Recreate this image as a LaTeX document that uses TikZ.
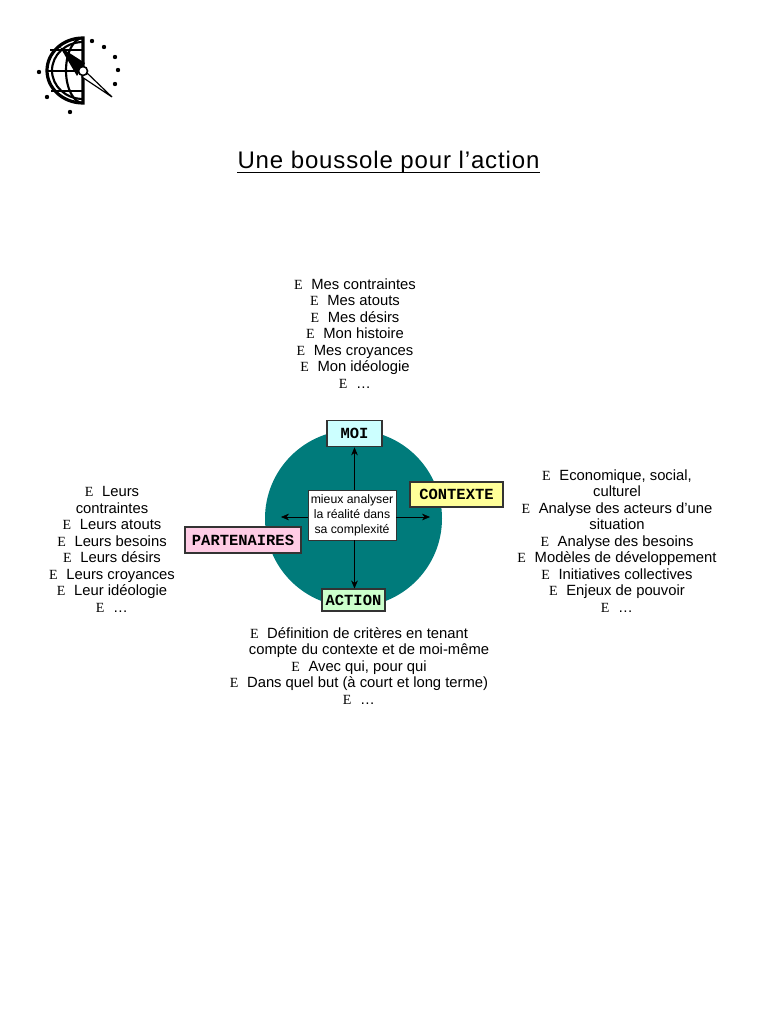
\documentclass[tikz,border=0pt]{standalone}
\usepackage{fontspec}
\setmainfont{Liberation Sans}
\newfontfamily\serifE{Liberation Serif}
\newfontfamily\titlefont[LetterSpace=3.6]{Liberation Sans}
\usetikzlibrary{positioning,arrows.meta}
\definecolor{sarcelle}{HTML}{007B7B}
\definecolor{polemoi}{HTML}{CCFFFF}
\definecolor{polectx}{HTML}{FFFF99}
\definecolor{polepart}{HTML}{FFCCE5}
\definecolor{poleact}{HTML}{CCFFCC}
\newcommand{\puce}{{\serifE\fontsize{10.5}{12}\selectfont E}\hspace{6.5pt}}

\begin{document}
\begin{tikzpicture}[
  x=0.75pt, y=-0.75pt,
  pole/.style={rectangle, draw=black!80, line width=0.8pt, inner sep=0pt, font=\fontsize{11.6}{13}\selectfont\ttfamily\bfseries},
  liste/.style={align=center, inner sep=0pt, font=\fontsize{11.1}{12.4}\selectfont},
  >={Stealth[length=6pt,width=5pt]}
]
  \setmonofont{Liberation Mono}
  \useasboundingbox (0,0) rectangle (768,1024);

  \draw[line width=2.4pt] (83,38) arc[start angle=270, end angle=90, x radius=36, y radius=32.5] -- cycle;
  \draw[line width=1.6pt] (83,42) arc[start angle=270, end angle=90, x radius=31, y radius=28.5];
  \draw[line width=1.6pt] (83,38) arc[start angle=270, end angle=90, x radius=17, y radius=32.5];
  \draw[line width=1.6pt] (50,50) -- (83,50) (47,71) -- (83,71) (51,91) -- (83,91);
  \fill (60,47) -- (85,63) -- (77,76) -- cycle;
  \draw[fill=white, line width=0.9pt] (86,72) -- (112,97) -- (82,77) -- cycle;
  \draw[fill=white, line width=1.2pt] (83,71) circle (4.5);
  \foreach \mx/\my in {92/41, 104/47, 115/57, 118/70, 115/84, 39/72, 47/97, 70/112}
    \fill (\mx,\my) circle (2.2);

  \node[anchor=base, inner sep=0pt, font=\fontsize{18}{22}\selectfont\titlefont] (titre) at (388.5,168.5) {Une boussole pour l’action};
  \draw[line width=1pt] ([yshift=-3pt]titre.base west) -- ([yshift=-3pt]titre.base east);

  \node[liste] (listemoi) at (355,333.5) {\puce Mes contraintes\\ \puce Mes atouts\\ \puce Mes désirs\\ \puce Mon histoire\\ \puce Mes croyances\\ \puce Mon idéologie\\ \puce …};
  \begin{scope}
    \clip (0,470) rectangle (200,614);
    \node[liste] (listepart) at (112,549.5) {\puce Leurs\\ contraintes\\ \puce Leurs atouts\\ \puce Leurs besoins\\ \puce Leurs désirs\\ \puce Leurs croyances\\ \puce Leur idéologie\\ \puce …};
  \end{scope}
  \node[liste] (listectx) at (617,541) {\puce Economique, social,\\ culturel\\ \puce Analyse des acteurs d'une\\ situation\\ \puce Analyse des besoins\\ \puce Modèles de développement\\ \puce Initiatives collectives\\ \puce Enjeux de pouvoir\\ \puce …};
  \node[liste] (listeact) at (359,666) {\puce Définition de critères en tenant\\ \hspace*{15pt}compte du contexte et de moi-même\\ \puce Avec qui, pour qui\\ \puce Dans quel but (à court et long terme)\\ \puce …};

  \node[circle, fill=sarcelle, minimum size=132.75pt, inner sep=0pt] (boussole) at (353.5,518.5) {};
  \node[draw=black!80, fill=white, minimum width=66pt, minimum height=37.5pt, inner sep=0pt, align=center, font=\fontsize{9.2}{11.2}\selectfont] (analyse) at (352,515) {mieux analyser\\la réalité dans\\sa complexité};

  \node[pole, fill=polemoi, minimum width=41.25pt, minimum height=20pt] (moi) at (354.5,433.5) {MOI};
  \node[pole, fill=polectx, minimum width=69.75pt, minimum height=18.75pt] (contexte) at (456.5,494.5) {CONTEXTE};
  \node[pole, fill=polepart, minimum width=87pt, minimum height=19.5pt] (partenaires) at (243,540) {PARTENAIRES};
  \node[pole, fill=poleact, minimum width=47.25pt, minimum height=16.5pt] (action) at (353.5,600) {ACTION};

  \coordinate (gauche) at (281,517);
  \coordinate (droite) at (430,517);
  \draw[->] (moi |- analyse.north) -- (moi.south);
  \draw[->] (moi |- analyse.south) -- (moi |- action.north);
  \draw[->] (analyse.west |- gauche) -- (gauche);
  \draw[->] (analyse.east |- droite) -- (droite);
\end{tikzpicture}
\end{document}
